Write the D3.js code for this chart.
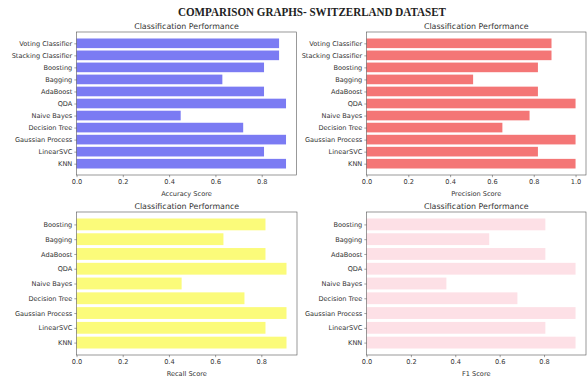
<!DOCTYPE html>
<html>
<head>
<meta charset="utf-8">
<script src="https://cdn.jsdelivr.net/npm/d3@7"></script>
<style>
  html, body { margin: 0; padding: 0; background: #ffffff; }
  svg { display: block; }
</style>
</head>
<body>
<svg id="chart" width="588" height="391"></svg>
<script>
// Classifiers, listed bottom-to-top as they are stacked in each panel
const modelsAll = ["KNN", "LinearSVC", "Gaussian Process", "Decision Tree", "Naive Bayes",
  "QDA", "AdaBoost", "Bagging", "Boosting", "Stacking Classifier", "Voting Classifier"];
const modelsBase = ["KNN", "LinearSVC", "Gaussian Process", "Decision Tree", "Naive Bayes",
  "QDA", "AdaBoost", "Bagging", "Boosting"];

// Scores per classifier (same order as the category lists above)
const accuracyScores = [0.905, 0.81, 0.905, 0.72, 0.45, 0.905, 0.81, 0.63, 0.81, 0.875, 0.875];
const precisionScores = [1.0, 0.82, 1.0, 0.65, 0.78, 1.0, 0.82, 0.51, 0.82, 0.885, 0.885];
const recallScores = [0.909, 0.818, 0.909, 0.727, 0.455, 0.909, 0.818, 0.636, 0.818];
const f1Scores = [0.942, 0.806, 0.942, 0.68, 0.36, 0.942, 0.806, 0.553, 0.806];

// Tick values for each x axis
const ticksTo08 = [0.0, 0.2, 0.4, 0.6, 0.8];
const ticksTo10 = [0.0, 0.2, 0.4, 0.6, 0.8, 1.0];

const figureTitle = "COMPARISON GRAPHS- SWITZERLAND DATASET";
const panelTitle = "Classification Performance";

const svg = d3.select("#chart");

svg.append("text")
  .attr("x", 312).attr("y", 16)
  .attr("text-anchor", "middle")
  .attr("font-family", "'Liberation Serif', 'DejaVu Serif', serif")
  .attr("font-weight", "bold")
  .attr("font-size", 11.5)
  .attr("textLength", 268)
  .attr("lengthAdjust", "spacingAndGlyphs")
  .attr("fill", "#222")
  .text(figureTitle);

const panels = [
  { cats: modelsAll, vals: accuracyScores, color: "#7b7bf3", label: "Accuracy Score",
    ticks: ticksTo08, box: { x0: 76.5, x1: 296.5, y0: 32, y1: 175 } },
  { cats: modelsAll, vals: precisionScores, color: "#f47676", label: "Precision Score",
    ticks: ticksTo10, box: { x0: 366.5, x1: 586, y0: 32, y1: 175 } },
  { cats: modelsBase, vals: recallScores, color: "#fbfb7a", label: "Recall Score",
    ticks: ticksTo08, box: { x0: 76.5, x1: 297, y0: 212, y1: 355 } },
  { cats: modelsBase, vals: f1Scores, color: "#fde0e6", label: "F1 Score",
    ticks: ticksTo08, box: { x0: 366.5, x1: 586, y0: 212, y1: 355 } }
];

const fontSans = "'DejaVu Sans', sans-serif";
const textColor = "#333";
const tickFont = 6.6;

panels.forEach(p => {
  const b = p.box;
  const n = p.cats.length;
  const maxV = d3.max(p.vals);

  // x: value axis with a 5% headroom; y: category index with bar height 0.8 and 5% margins
  const x = d3.scaleLinear().domain([0, maxV * 1.05]).range([b.x0, b.x1]);
  const span = (n - 1) + 0.8;
  const pad = span * 0.05;
  const y = d3.scaleLinear().domain([-0.4 - pad, n - 1 + 0.4 + pad]).range([b.y1, b.y0]);
  const barH = Math.abs(y(0.4) - y(-0.4));

  const g = svg.append("g");

  g.selectAll("rect.bar")
    .data(p.vals)
    .join("rect")
    .attr("class", "bar")
    .attr("x", x(0))
    .attr("y", (d, i) => y(i + 0.4))
    .attr("width", d => x(d) - x(0))
    .attr("height", barH)
    .attr("fill", p.color);

  // frame
  g.append("rect")
    .attr("x", b.x0).attr("y", b.y0)
    .attr("width", b.x1 - b.x0).attr("height", b.y1 - b.y0)
    .attr("fill", "none")
    .attr("stroke", "#555")
    .attr("stroke-width", 0.6);

  // x axis
  const xAxis = d3.axisBottom(x).tickValues(p.ticks).tickFormat(d3.format(".1f")).tickSize(2.2).tickPadding(2.6);
  const gx = g.append("g").attr("transform", `translate(0,${b.y1})`).call(xAxis);
  gx.select(".domain").remove();
  gx.selectAll("line").attr("stroke", "#444").attr("stroke-width", 0.5);
  gx.selectAll("text").attr("font-family", fontSans).attr("font-size", tickFont).attr("fill", textColor);

  // y axis
  const yAxis = d3.axisLeft(y).tickValues(d3.range(n)).tickFormat(i => p.cats[i]).tickSize(2.2).tickPadding(2);
  const gy = g.append("g").attr("transform", `translate(${b.x0},0)`).call(yAxis);
  gy.select(".domain").remove();
  gy.selectAll("line").attr("stroke", "#444").attr("stroke-width", 0.5);
  gy.selectAll("text").attr("font-family", fontSans).attr("font-size", tickFont).attr("fill", textColor);

  // panel title
  g.append("text")
    .attr("x", (b.x0 + b.x1) / 2).attr("y", b.y0 - 3)
    .attr("text-anchor", "middle")
    .attr("font-family", fontSans).attr("font-size", 7.9).attr("fill", textColor)
    .text(panelTitle);

  // x label
  g.append("text")
    .attr("x", (b.x0 + b.x1) / 2).attr("y", b.y1 + 20.5)
    .attr("text-anchor", "middle")
    .attr("font-family", fontSans).attr("font-size", tickFont).attr("fill", textColor)
    .text(p.label);
});
</script>
</body>
</html>
